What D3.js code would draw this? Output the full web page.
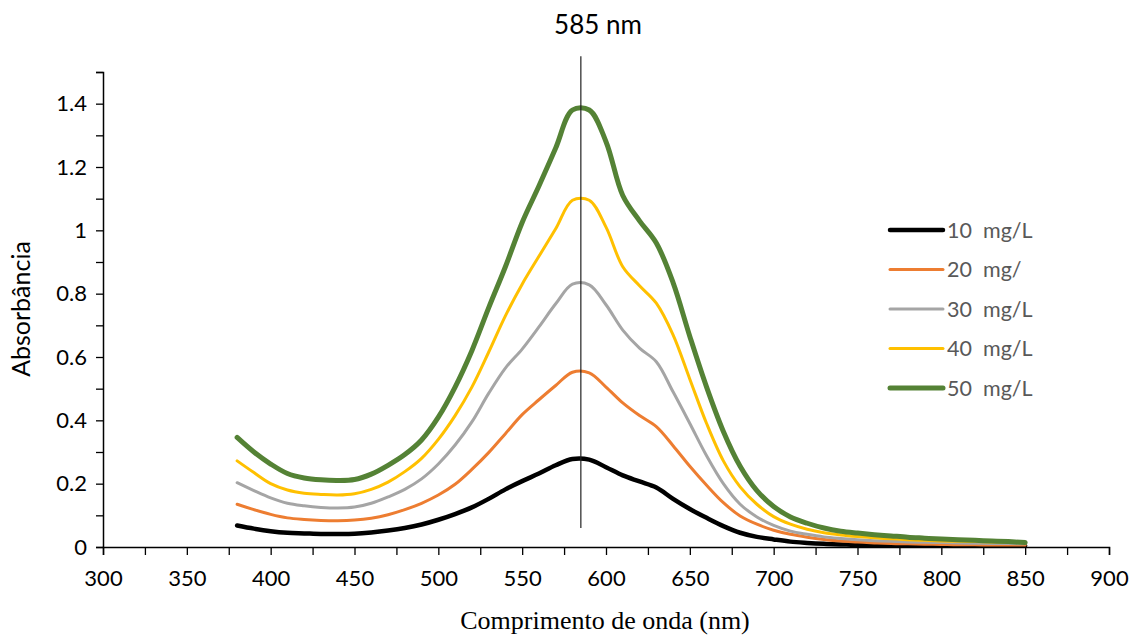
<!DOCTYPE html>
<html>
<head>
<meta charset="utf-8">
<script src="https://cdn.jsdelivr.net/npm/d3@7"></script>
<style>
  body { margin: 0; background: #fff; }
  text { font-family: Lato, "Noto Sans", sans-serif; }
</style>
</head>
<body>
<script>
// wavelengths (nm)
const wavelengths = [380,390,400,410,420,430,440,450,460,470,480,490,500,510,520,530,540,550,560,570,580,590,600,610,620,630,640,650,660,670,680,690,700,710,720,730,740,750,760,770,780,790,800,810,820,830,840,850];

const conc10 = [0.068,0.058,0.050,0.045,0.043,0.041,0.041,0.042,0.046,0.052,0.060,0.071,0.086,0.104,0.125,0.152,0.182,0.208,0.232,0.258,0.278,0.276,0.252,0.226,0.207,0.188,0.152,0.120,0.092,0.066,0.045,0.032,0.024,0.017,0.013,0.010,0.008,0.007,0.006,0.006,0.005,0.005,0.005,0.004,0.004,0.004,0.004,0.004];
const conc20 = [0.135,0.118,0.103,0.092,0.087,0.084,0.083,0.085,0.091,0.102,0.118,0.138,0.164,0.198,0.245,0.298,0.358,0.418,0.465,0.510,0.552,0.550,0.505,0.455,0.415,0.380,0.320,0.255,0.195,0.140,0.098,0.072,0.053,0.040,0.031,0.024,0.019,0.016,0.013,0.011,0.010,0.009,0.008,0.007,0.007,0.006,0.006,0.006];
const conc30 = [0.203,0.178,0.155,0.138,0.130,0.125,0.123,0.126,0.138,0.158,0.182,0.215,0.262,0.322,0.395,0.485,0.565,0.625,0.695,0.768,0.830,0.828,0.765,0.685,0.628,0.585,0.490,0.390,0.288,0.200,0.135,0.095,0.068,0.050,0.040,0.032,0.027,0.023,0.020,0.018,0.016,0.015,0.014,0.013,0.012,0.011,0.011,0.010];
const conc40 = [0.272,0.235,0.200,0.180,0.170,0.166,0.164,0.168,0.182,0.205,0.238,0.280,0.340,0.415,0.505,0.615,0.730,0.830,0.918,1.005,1.095,1.095,1.010,0.885,0.825,0.770,0.670,0.530,0.390,0.272,0.190,0.135,0.096,0.072,0.056,0.045,0.038,0.033,0.029,0.026,0.023,0.021,0.019,0.018,0.017,0.016,0.015,0.014];
const conc50 = [0.346,0.300,0.262,0.232,0.218,0.212,0.210,0.213,0.230,0.258,0.292,0.338,0.410,0.505,0.620,0.755,0.885,1.025,1.140,1.260,1.380,1.380,1.280,1.110,1.030,0.960,0.835,0.665,0.505,0.365,0.255,0.178,0.128,0.095,0.075,0.060,0.050,0.044,0.039,0.035,0.031,0.028,0.025,0.023,0.021,0.019,0.017,0.014];

const seriesNames = ["10  mg/L", "20  mg/", "30  mg/L", "40  mg/L", "50  mg/L"];
const seriesValues = [conc10, conc20, conc30, conc40, conc50];
const colors = ["#000000", "#ED7D31", "#A5A5A5", "#FFC000", "#548235"];
const widths = [4.5, 3, 3, 3, 5];

const xTicks = [300,350,400,450,500,550,600,650,700,750,800,850,900];
const yTicks = [0,0.2,0.4,0.6,0.8,1,1.2,1.4];
const peak = 585;

const w = 1133, h = 636;

const svg = d3.select("body").append("svg")
  .attr("width", w)
  .attr("height", h);

const x = d3.scaleLinear().domain([300, 900]).range([103, 1109]);
const y = d3.scaleLinear().domain([0, 1.5]).range([547, 72]);

// y axis (minor + major ticks, then labels)
svg.append("g")
  .attr("transform", "translate(103,0)")
  .call(d3.axisLeft(y).tickValues(d3.range(0, 1.51, 0.1)).tickSize(7).tickFormat(""));
const yLab = svg.append("g")
  .attr("transform", "translate(103,0)")
  .call(d3.axisLeft(y).tickValues(yTicks).tickSize(0).tickPadding(16).tickFormat(d3.format("")));
yLab.select(".domain").remove();

// x axis
svg.append("g")
  .attr("transform", "translate(0,547)")
  .call(d3.axisBottom(x).tickValues(d3.range(300, 901, 25)).tickSize(8).tickFormat(""));
const xLab = svg.append("g")
  .attr("transform", "translate(0,547)")
  .call(d3.axisBottom(x).tickValues(xTicks).tickSize(0).tickPadding(23).tickFormat(d3.format("")));
xLab.select(".domain").remove();

svg.selectAll(".domain").attr("stroke", "#000").attr("stroke-width", 1.5);
svg.selectAll(".tick line").attr("stroke", "#000").attr("stroke-width", 1.3);
svg.selectAll(".tick text")
  .attr("font-family", "Lato, sans-serif")
  .attr("font-size", 22)
  .attr("fill", "#000");

// lines
const line = d3.line()
  .x((d, i) => x(wavelengths[i]))
  .y(d => y(d))
  .curve(d3.curveCatmullRom);

svg.selectAll("path.series")
  .data(seriesValues)
  .enter()
  .append("path")
  .attr("class", "series")
  .attr("d", line)
  .attr("fill", "none")
  .attr("stroke", (d, i) => colors[i])
  .attr("stroke-width", (d, i) => widths[i])
  .attr("stroke-linecap", "round")
  .attr("stroke-linejoin", "round");

// peak marker
svg.append("line")
  .attr("x1", x(peak)).attr("x2", x(peak))
  .attr("y1", y(1.55)).attr("y2", y(0.06))
  .attr("stroke", "#222")
  .attr("stroke-width", 1.2);

svg.append("text")
  .attr("x", 598).attr("y", 34)
  .attr("text-anchor", "middle")
  .attr("font-size", 26)
  .attr("fill", "#000")
  .text(peak + " nm");

// axis titles
svg.append("text")
  .attr("transform", "translate(30,309) rotate(-90)")
  .attr("text-anchor", "middle")
  .attr("font-size", 25)
  .attr("fill", "#000")
  .text("Absorbância");

svg.append("text")
  .attr("x", 605).attr("y", 629)
  .attr("text-anchor", "middle")
  .style("font-family", "'Liberation Serif', 'Times New Roman', serif")
  .attr("font-size", 26)
  .attr("fill", "#000")
  .text("Comprimento de onda (nm)");

// legend
const legend = svg.selectAll("g.legend")
  .data(seriesNames)
  .enter()
  .append("g")
  .attr("class", "legend")
  .attr("transform", (d, i) => `translate(890,${230 + i * 39.5})`);

legend.append("line")
  .attr("x1", 0).attr("x2", 53)
  .attr("stroke", (d, i) => colors[i])
  .attr("stroke-width", (d, i) => widths[i])
  .attr("stroke-linecap", "round");

legend.append("text")
  .attr("x", 57).attr("y", 7.5)
  .attr("font-size", 21.5)
  .attr("fill", "#595959")
  .style("white-space", "pre")
  .text(d => d);
</script>
</body>
</html>
